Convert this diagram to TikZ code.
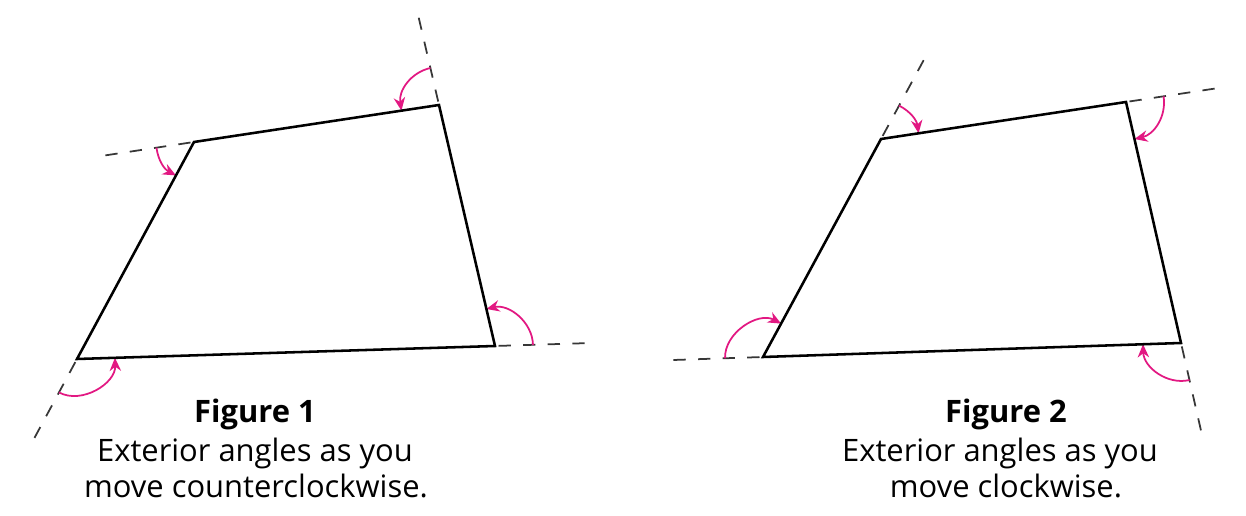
\documentclass[tikz,border=0pt]{standalone}
\usepackage{fontspec}
\setmainfont{Open Sans}
\usetikzlibrary{calc,arrows.meta}
\definecolor{arcpink}{RGB}{226,24,130}
\definecolor{dashgray}{RGB}{55,55,55}
\newcommand{\extlen}{1.9cm}
\newcommand{\arcrad}{0.76cm}
\tikzset{
  side/.style={line width=1.45pt, line join=miter},
  extline/.style={draw=dashgray, line width=1pt, dash pattern=on 7pt off 7pt, dash phase=-2pt},
  angarrow/.style={draw=arcpink, line width=1pt, -{Stealth[length=7.5pt,width=6.5pt]}},
  caption/.style={anchor=base, font=\fontsize{17.6}{21}\selectfont},
}
\begin{document}
\begin{tikzpicture}[x=0.02cm, y=0.02cm]
                \useasboundingbox (0,0) rectangle (1246,516);
                % figure 1
                \coordinate (A1) at (77,157);
                \coordinate (B1) at (194,374);
                \coordinate (C1) at (439,411);
                \coordinate (D1) at (495,170);
                \foreach \p/\v/\n/\b in {A1/D1/C1/51, D1/C1/B1/43, C1/B1/A1/27, B1/A1/D1/60} {
                    \draw [extline] (\v) -- ($(\v)!-\extlen!(\p)$);
                    \draw [angarrow] ($(\v)!-\arcrad!(\p)$) to[bend right=\b] ($(\v)!\arcrad!(\n)$);
                }
                \draw [side] (A1) -- (B1) -- (C1) -- (D1) -- cycle;
                \node [caption, font=\fontsize{17.6}{21}\selectfont\bfseries] (title1) at (255,93) {Figure 1};
                \node [caption] (line1a) at (255,54) {Exterior angles as you};
                \node [caption] (line1b) at (256,18) {move counterclockwise.};
                % figure 2
                \coordinate (A2) at (763,159);
                \coordinate (B2) at (881,377);
                \coordinate (C2) at (1126,414);
                \coordinate (D2) at (1181,173);
                \foreach \p/\v/\n/\b in {D2/A2/B2/60, A2/B2/C2/27, B2/C2/D2/43, C2/D2/A2/51} {
                    \draw [extline] (\v) -- ($(\v)!-\extlen!(\p)$);
                    \draw [angarrow] ($(\v)!-\arcrad!(\p)$) to[bend left=\b] ($(\v)!\arcrad!(\n)$);
                }
                \draw [side] (A2) -- (B2) -- (C2) -- (D2) -- cycle;
                \node [caption, font=\fontsize{17.6}{21}\selectfont\bfseries] (title2) at (1006,93) {Figure 2};
                \node [caption] (line2a) at (1000,54) {Exterior angles as you};
                \node [caption] (line2b) at (1006,18) {move clockwise.};
\end{tikzpicture}
\end{document}
